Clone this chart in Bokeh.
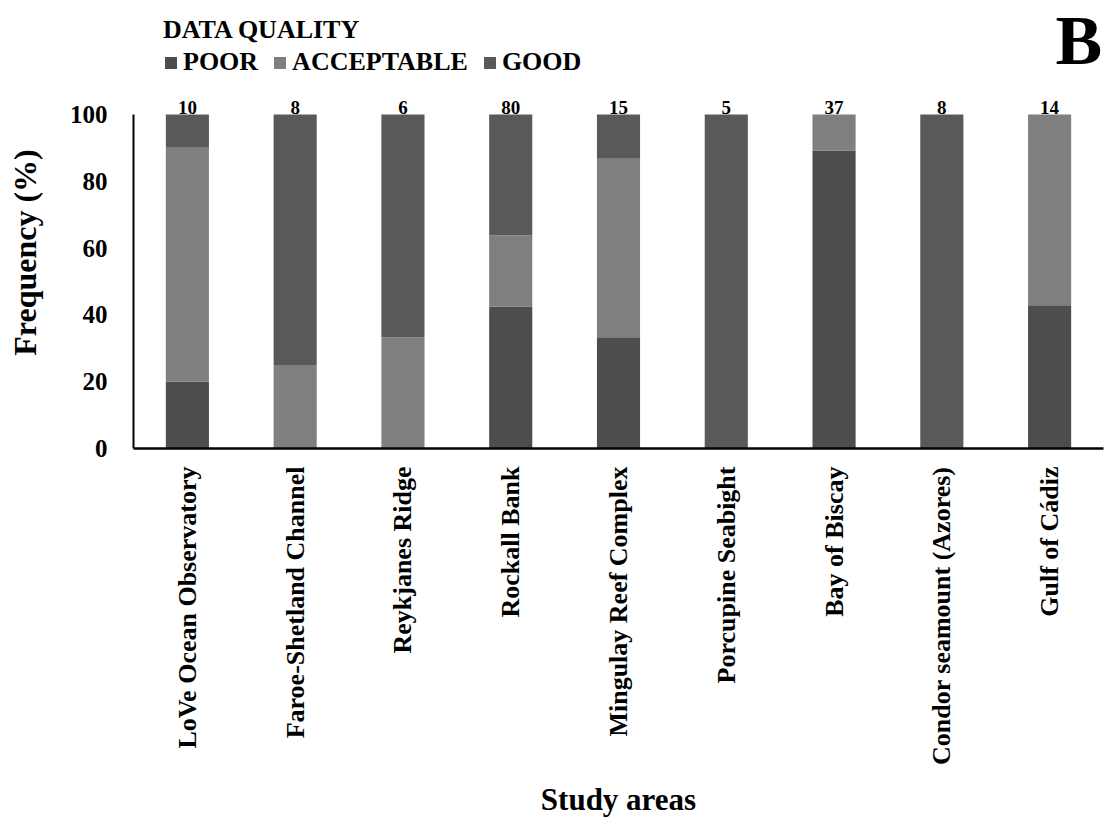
import math
from bokeh.plotting import figure
from bokeh.models import ColumnDataSource, FactorRange, Range1d, FixedTicker, Label, LinearAxis
from bokeh.core.properties import value
from bokeh.embed import file_html
from bokeh.resources import INLINE

# ---- data (percent of samples per data-quality class) ----
areas = [
    "LoVe Ocean Observatory",
    "Faroe-Shetland Channel",
    "Reykjanes Ridge",
    "Rockall Bank",
    "Mingulay Reef Complex",
    "Porcupine Seabight",
    "Bay of Biscay",
    "Condor seamount (Azores)",
    "Gulf of Cádiz",
]
poor = [20.0, 0.0, 0.0, 42.5, 33.3, 0.0, 89.2, 0.0, 42.9]
acceptable = [70.0, 25.0, 33.3, 21.3, 53.4, 0.0, 10.8, 0.0, 57.1]
good = [10.0, 75.0, 66.7, 36.2, 13.3, 100.0, 0.0, 100.0, 0.0]
n_samples = [10, 8, 6, 80, 15, 5, 37, 8, 14]
quality_levels = ["POOR", "ACCEPTABLE", "GOOD"]
quality_colors = ["#4d4d4d", "#7f7f7f", "#595959"]
y_ticks = [0, 20, 40, 60, 80, 100]

FONT = "Liberation Serif"
NBSP = "\u00a0"

source = ColumnDataSource(dict(
    area=areas,
    poor=poor,
    acceptable=acceptable,
    good=good,
    total=[a + b + c for a, b, c in zip(poor, acceptable, good)],
    n_label=[str(n) for n in n_samples],
))

p = figure(
    width=1104, height=820,
    x_range=FactorRange(factors=areas, range_padding=0),
    y_range=Range1d(0, 134.1),
    output_backend="svg", toolbar_location=None,
    min_border_left=133, min_border_right=1,
    min_border_top=0, min_border_bottom=372,
)
p.outline_line_color = None
p.xgrid.grid_line_color = None
p.ygrid.grid_line_color = None

p.vbar_stack(
    ["poor", "acceptable", "good"], x="area", width=0.4,
    color=quality_colors, line_color=None, source=source,
    legend_label=quality_levels,
)

p.text(
    x="area", y="total", text="n_label", source=source,
    text_font=value(FONT), text_font_size="19px", text_font_style="bold",
    text_align="center", text_baseline="bottom",
    text_color="black",
)

# y axis (ticks 0..100)
ya = p.yaxis[0]
ya.ticker = FixedTicker(ticks=y_ticks)
ya.bounds = (y_ticks[0], y_ticks[-1])
ya.axis_line_width = 2
ya.axis_line_color = "black"
ya.major_tick_line_color = None
ya.minor_tick_line_color = None
ya.major_tick_in = 0
ya.major_tick_out = 0
ya.minor_tick_out = 0
ya.major_label_standoff = 26
ya.major_label_text_font = FONT
ya.major_label_text_font_size = "25px"
ya.major_label_text_font_style = "bold"
ya.major_label_text_color = "black"

# second (bare) left axis only carrying the title
ytitle = LinearAxis(
    ticker=FixedTicker(ticks=[]),
    axis_line_color=None, major_tick_line_color=None, minor_tick_line_color=None,
    major_tick_in=0, major_tick_out=0, minor_tick_out=0,
    major_label_text_font_size="0px",
    axis_label="Frequency (%)" + NBSP * 7, axis_label_standoff=24,
    axis_label_text_font=FONT, axis_label_text_font_size="32px",
    axis_label_text_font_style="bold", axis_label_text_color="black",
)
p.add_layout(ytitle, "left")

# x axis
xa = p.xaxis[0]
xa.axis_line_width = 2.5
xa.axis_line_color = "black"
xa.major_tick_line_color = None
xa.minor_tick_line_color = None
xa.major_tick_in = 0
xa.major_tick_out = 0
xa.major_label_orientation = math.pi / 2
xa.major_label_standoff = 18
xa.major_label_text_font = FONT
xa.major_label_text_font_size = "26px"
xa.major_label_text_font_style = "bold"
xa.major_label_text_color = "black"
xa.axis_label = "Study areas"
xa.axis_label_standoff = 14
xa.axis_label_text_font = FONT
xa.axis_label_text_font_size = "31px"
xa.axis_label_text_font_style = "bold"
xa.axis_label_text_color = "black"

# panel letter
p.add_layout(Label(
    x=922, y=408, x_units="screen", y_units="screen", text="B",
    text_font=FONT, text_font_size="70px", text_font_style="bold",
    text_color="black", text_baseline="alphabetic",
))

# legend
lg = p.legend[0]
lg.title = "DATA QUALITY"
lg.title_text_font = FONT
lg.title_text_font_size = "26px"
lg.title_text_font_style = "bold"
lg.title_text_color = "black"
lg.title_standoff = 2
lg.orientation = "horizontal"
lg.location = (30, 371)
lg.label_text_font = FONT
lg.label_text_font_size = "26px"
lg.label_text_font_style = "bold"
lg.label_text_color = "black"
lg.glyph_width = 15
lg.glyph_height = 15
lg.label_standoff = 5
lg.spacing = 14
lg.padding = 0
lg.margin = 0
lg.border_line_color = None
lg.background_fill_alpha = 0

open("out.html", "w").write(file_html(p, INLINE))
